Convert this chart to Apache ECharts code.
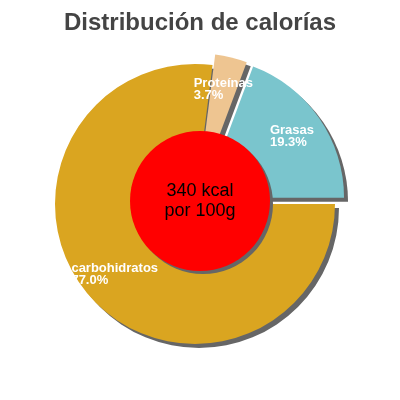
<!DOCTYPE html>
<html>
<head>
<meta charset="utf-8">
<script src="https://cdn.jsdelivr.net/npm/echarts@6/dist/echarts.min.js"></script>
<style>
html,body{margin:0;padding:0;background:#fff;}
#chart{width:400px;height:400px;}
</style>
</head>
<body>
<div id="chart"></div>
<script>
const titleText = 'Distribución de calorías';
const categories = ['carbohidratos', 'Proteínas', 'Grasas'];
const percents = [77.0, 3.7, 19.3];
const exploded = [false, true, true];
const energyValue = 340;
const energyUnit = 'kcal';
const energyBasis = 'por 100g';

const sliceColors = ['#DAA520', '#EEC591', '#7AC5CD'];
const FONT = 'Liberation Sans, Arial, sans-serif';
const shadow = { shadowColor: '#666666', shadowOffsetX: 4, shadowOffsetY: 4, shadowBlur: 0 };

const pieData = categories.map((c, i) => ({
  name: c, value: percents[i], selected: exploded[i],
  itemStyle: Object.assign({ color: sliceColors[i] }, shadow)
}));
const labelData = categories.map((c, i) => ({
  name: c, value: percents[i], selected: exploded[i]
}));

const chart = echarts.init(document.getElementById('chart'), null, { renderer: 'canvas' });
chart.setOption({
  animation: false,
  title: {
    text: titleText, left: 'center', top: 6,
    textStyle: { fontSize: 24, fontWeight: 'bold', color: '#444444', fontFamily: FONT }
  },
  series: [
    {
      type: 'pie', center: [195, 204], radius: [0, 140],
      startAngle: 0, clockwise: true, avoidLabelOverlap: false,
      selectedMode: 'multiple', selectedOffset: 11,
      silent: true, label: { show: false }, labelLine: { show: false },
      emphasis: { disabled: true },
      data: pieData
    },
    {
      type: 'pie', center: [200, 201], radius: [0, 70],
      silent: true, emphasis: { disabled: true },
      labelLine: { show: false },
      label: {
        show: true, position: 'center',
        formatter: () => energyValue + ' ' + energyUnit + '\n' + energyBasis,
        fontSize: 18, lineHeight: 20, color: '#000000', fontFamily: FONT
      },
      data: [{ name: 'energía', value: energyValue, itemStyle: Object.assign({ color: '#FF0000' }, { shadowColor: '#666666', shadowOffsetX: 3, shadowOffsetY: 3, shadowBlur: 0 }) }]
    },
    {
      type: 'pie', center: [195, 204], radius: [68, 140],
      startAngle: 0, clockwise: true, avoidLabelOverlap: false,
      selectedMode: 'multiple', selectedOffset: 11,
      silent: true, emphasis: { disabled: true },
      itemStyle: { color: 'rgba(0,0,0,0)' },
      labelLine: { show: false },
      label: {
        show: true, position: 'inside',
        formatter: p => '{a|' + p.name + '}\n{a|' + percents[p.dataIndex].toFixed(1) + '%}',
        rich: { a: { align: 'left', color: '#ffffff', fontSize: 13, fontWeight: 'bold', fontFamily: FONT, lineHeight: 12 } }
      },
      data: labelData
    }
  ]
});
</script>
</body>
</html>
